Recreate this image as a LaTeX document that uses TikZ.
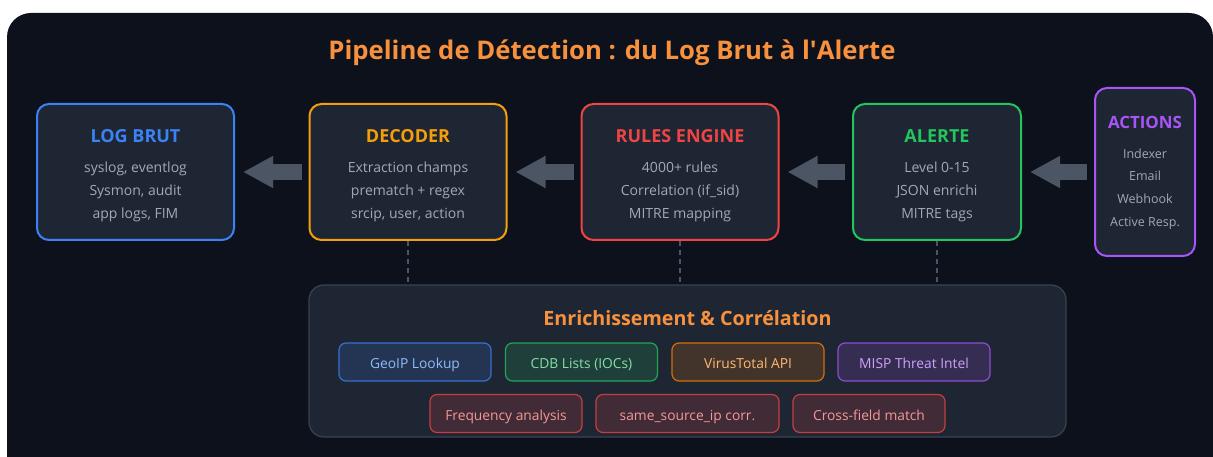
\documentclass[tikz,border=0pt]{standalone}
\usepackage{fontspec}
\setmainfont{Open Sans}
\usetikzlibrary{arrows.meta}

\definecolor{panelbg}{HTML}{0D111B}
\definecolor{boxbg}{HTML}{1F2633}
\definecolor{bodytext}{HTML}{A3A9B3}
\definecolor{arrowgray}{HTML}{4B5563}
\definecolor{titleorange}{HTML}{F7913D}
\definecolor{cblue}{HTML}{3B82F6}
\definecolor{camber}{HTML}{F59E0B}
\definecolor{cred}{HTML}{EF4444}
\definecolor{cgreen}{HTML}{22C55E}
\definecolor{cpurple}{HTML}{A855F7}
\definecolor{enrline}{HTML}{3A4352}

\begin{document}
\begin{tikzpicture}[x=1pt,y=-1pt,
	stage/.style={draw, line width=2pt, rounded corners=12pt, fill=boxbg,
		minimum width=197pt, minimum height=136pt, inner sep=0pt},
	stagetitle/.style={font=\fontsize{18}{21}\selectfont\bfseries},
	stagetext/.style={text=bodytext, align=center, font=\fontsize{14}{23}\selectfont},
	flow/.style={draw=arrowgray, line width=16pt, -{Triangle[length=30pt,width=30pt]},
		shorten <=7pt, shorten >=8pt},
	link/.style={draw=arrowgray, line width=1.5pt, dash pattern=on 5pt off 4pt},
	chip/.style={draw=#1!80!boxbg, fill=#1!16!boxbg, text=#1!55!white, line width=1.2pt,
		rounded corners=7pt, minimum width=152pt, minimum height=38pt, inner sep=0pt,
		text height=13pt, text depth=0pt, font=\fontsize{13.8}{15}\selectfont},
]

	\useasboundingbox (0,0) rectangle (1213,457);
	\clip (0,0) rectangle (1213,457);
	\fill[white] (0,0) rectangle (1213,457);
	\fill[panelbg, rounded corners=24pt] (7,13) rectangle (1213,490);

	% title
	\node[text=titleorange, font=\fontsize{25.7}{30}\selectfont\bfseries] (title) at (612,53)
		{Pipeline de Détection : du Log Brut à l\textquotesingle Alerte};

	% pipeline stages
	\node[stage, draw=cblue] (log) at (135.5,172) {};
	\node[stage, draw=camber] (dec) at (408,172) {};
	\node[stage, draw=cred] (rules) at (680,172) {};
	\node[stage, draw=cgreen, minimum width=168pt] (alert) at (937,172) {};
	\node[stage, draw=cpurple, minimum width=100pt, minimum height=168pt] (act) at (1145,172) {};

	\node[stagetitle, text=cblue] (logT) at (135.5,136) {LOG BRUT};
	\node[stagetext] (logL) at (135.5,192) {syslog, eventlog\\Sysmon, audit\\app logs, FIM};

	\node[stagetitle, text=camber] (decT) at (408,136) {DECODER};
	\node[stagetext] (decL) at (408,192) {Extraction champs\\prematch + regex\\srcip, user, action};

	\node[stagetitle, text=cred] (rulesT) at (680,136) {RULES ENGINE};
	\node[stagetext] (rulesL) at (680,192) {4000+ rules\\Correlation (if\_sid)\\MITRE mapping};

	\node[stagetitle, text=cgreen] (alertT) at (937,136) {ALERTE};
	\node[stagetext] (alertL) at (937,192) {Level 0-15\\JSON enrichi\\MITRE tags};

	\node[text=cpurple, font=\fontsize{16.9}{19}\selectfont\bfseries] (actT) at (1145,122) {ACTIONS};
	\node[text=bodytext, align=center, font=\fontsize{12.5}{22.7}\selectfont] (actL) at (1145,189)
		{Indexer\\Email\\Webhook\\Active Resp.};

	% block arrows between stages
	\draw[flow] (dec) -- (log);
	\draw[flow] (rules) -- (dec);
	\draw[flow] (alert) -- (rules);
	\draw[flow] (act) -- (alert);

	% enrichment panel
	\node[draw=enrline, fill=boxbg, line width=1.2pt, rounded corners=15pt,
		minimum width=757pt, minimum height=152pt] (enr) at (687.5,361) {};
	\node[text=titleorange, font=\fontsize{19.7}{23}\selectfont\bfseries] (enrT) at (687.5,318)
		{Enrichissement \& Corrélation};

	\draw[link] (dec.south) -- (dec.south |- enr.north);
	\draw[link] (rules.south) -- (rules.south |- enr.north);
	\draw[link] (alert.south) -- (alert.south |- enr.north);

	\node[chip=cblue] (geo) at (415,362) {GeoIP Lookup};
	\node[chip=cgreen] (cdb) at (581.5,362) {CDB Lists (IOCs)};
	\node[chip=orange] (vt) at (748,362) {VirusTotal API};
	\node[chip=cpurple] (misp) at (914,362) {MISP Threat Intel};

	\node[chip=cred] (freq) at (506,413.5) {Frequency analysis};
	\node[chip=cred, minimum width=183pt] (same) at (687.5,413.5) {same\_source\_ip corr.};
	\node[chip=cred] (cross) at (869,413.5) {Cross-field match};

\end{tikzpicture}
\end{document}
